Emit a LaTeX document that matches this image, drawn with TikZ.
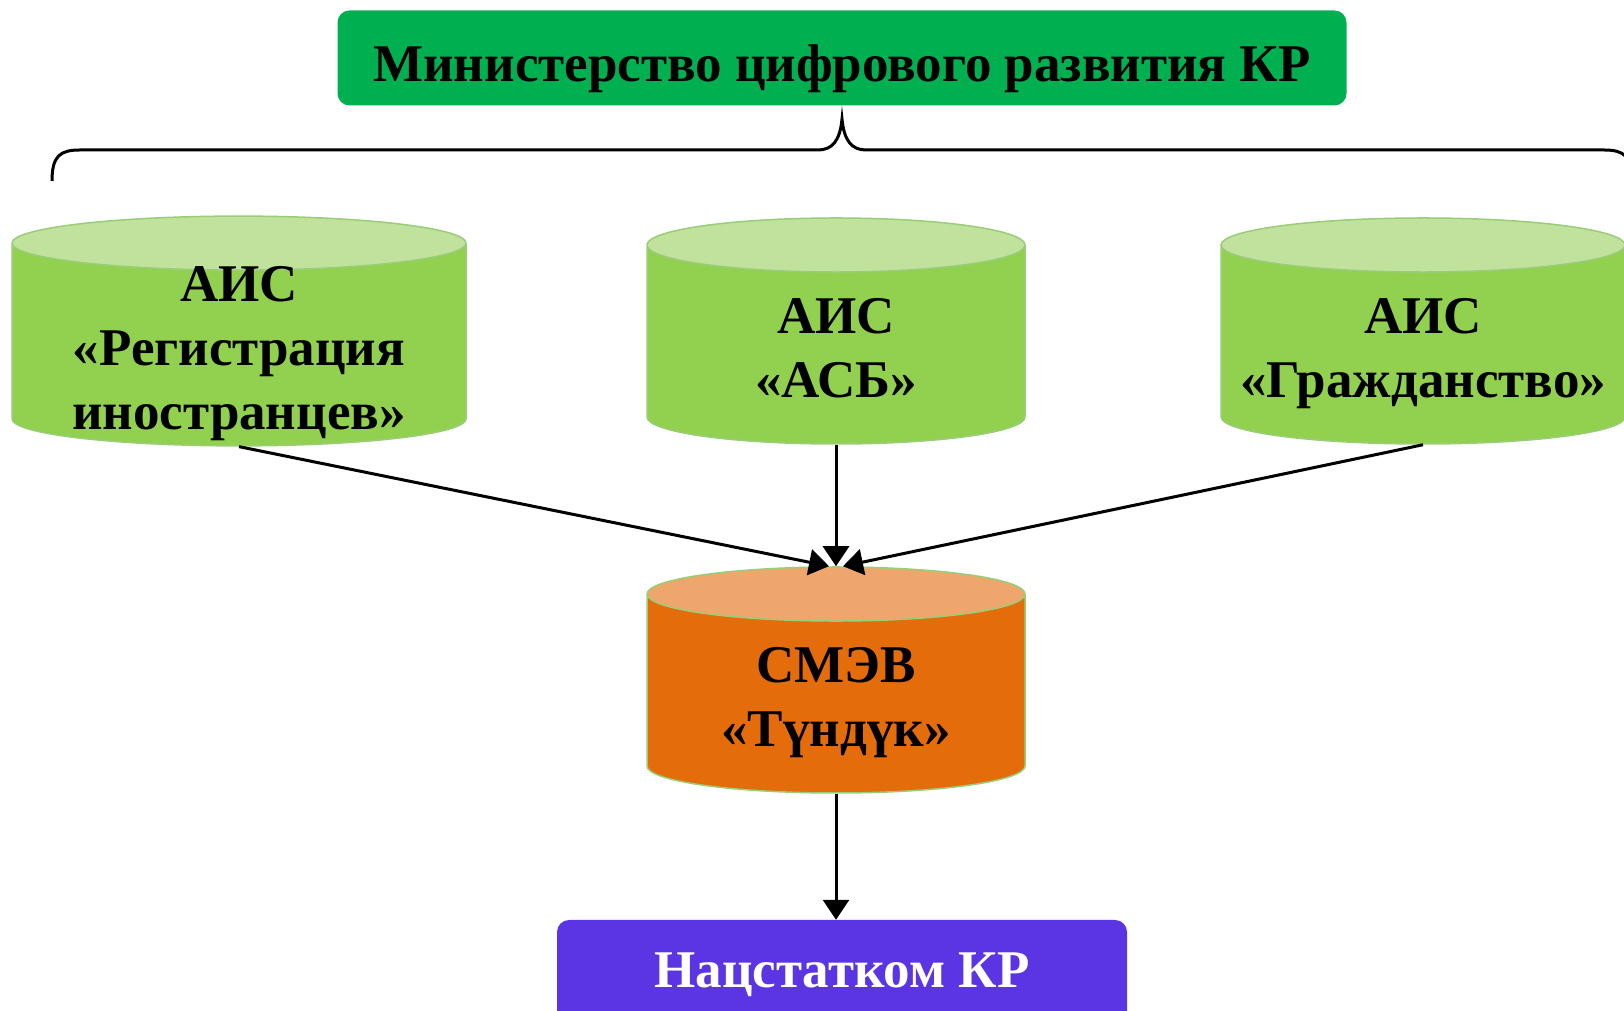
\documentclass[tikz,border=0pt]{standalone}
\usepackage{fontspec}
\setmainfont{Liberation Serif}
\usetikzlibrary{shapes.geometric,arrows.meta,positioning}
\definecolor{mingreen}{HTML}{00B050}
\definecolor{aisbody}{HTML}{92D050}
\definecolor{aistop}{HTML}{C0E29C}
\definecolor{smevbody}{HTML}{E46C0A}
\definecolor{smevtop}{HTML}{EEA66C}
\definecolor{dbline}{HTML}{9ACD78}
\definecolor{statviolet}{HTML}{5B34E3}

\begin{document}
\begin{tikzpicture}[x=1pt, y=1pt, font=\bfseries\fontsize{53}{64}\selectfont,
  db/.style={cylinder, shape border rotate=90, draw=dbline, line width=1.5pt, cylinder uses custom fill, cylinder body fill=aisbody, cylinder end fill=aistop, aspect=0.146, inner sep=0pt, minimum height=226pt, text width=370pt, align=center, anchor=shape center, text height=56pt, text depth=78pt},
  box/.style={rectangle, rounded corners=12pt, inner sep=0pt, align=center},
  flow/.style={line width=3pt, -{Triangle[length=20pt,width=26pt]}}]
  \useasboundingbox (0,0) rectangle (1624,1011);
  \node[box, fill=mingreen, minimum width=1009pt, minimum height=95pt, text height=59pt, text depth=12pt] (ministry) at (842,953) {Министерство цифрового развития КР};
  % brace over the three systems
  \draw[line width=3pt] (52,830) .. controls (52,855) and (60,861) .. (80,861) -- (818,861)
    .. controls (832,861) and (840,870) .. (842,892) .. controls (844,870) and (852,861) .. (866,861)
    -- (1604,861) .. controls (1624,861) and (1632,855) .. (1632,830);
  \node[db, minimum width=454pt, text height=31pt, text depth=117pt] (regin) at (239,680) {АИС\\«Регистрация\\иностранцев»};
  \node[db, minimum width=378pt] (asb) at (836,680) {АИС\\«АСБ»};
  \node[db, minimum width=404pt] (grazh) at (1423,680) {АИС\\«Гражданство»};
  \node[db, minimum width=378pt, cylinder body fill=smevbody, cylinder end fill=smevtop] (smev) at (836,331) {СМЭВ\\«Түндүк»};
  \node[box, fill=statviolet, text=white, minimum width=570pt, minimum height=110pt] (stat) at (842,36) {Нацстатком КР};
  \draw[flow] (regin.south) -- ([xshift=-7pt]smev.north);
  \draw[flow] (asb.south) -- (smev.north);
  \draw[flow] (grazh.south) -- ([xshift=7pt]smev.north);
  \draw[flow] (smev.south) -- (smev.south |- stat.north);
\end{tikzpicture}
\end{document}
